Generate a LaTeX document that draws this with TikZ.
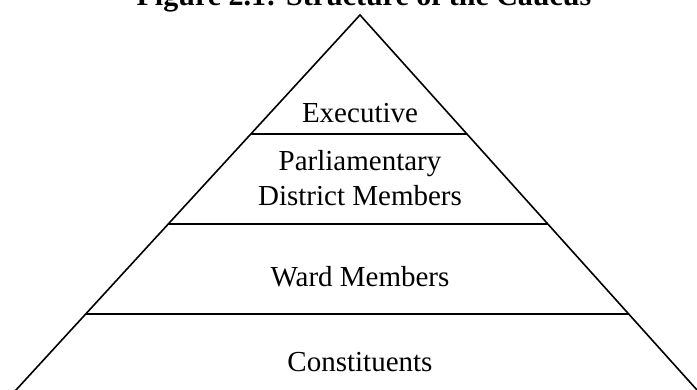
\documentclass[tikz,border=0pt]{standalone}
\usepackage{fontspec}
\setmainfont{Liberation Serif}
\usetikzlibrary{calc}
\begin{document}
\begin{tikzpicture}[x=1pt, y=-1pt, line width=1.6pt,
        tier/.style = {font=\fontsize{29}{35}\selectfont, align=center, anchor=base, inner sep=0pt}]
        \useasboundingbox (0,0) rectangle (697,390);
        \clip (0,0) rectangle (697,390);

        \node[font=\bfseries\fontsize{30}{34}\selectfont, anchor=base, inner sep=0pt] (title) at (364,6) {Figure 2.1: Structure of the Caucus};

        % corners of the pyramid
        \coordinate (apex) at (360,15);
        \coordinate (bl) at ($(apex)!1.05!(16,390)$);
        \coordinate (br) at ($(apex)!1.05!(697,390)$);

        % ends of the dividing lines
        \coordinate (l1) at ($(apex)!0.3173!(16,390)$);
        \coordinate (r1) at ($(apex)!0.3173!(697,390)$);
        \coordinate (l2) at ($(apex)!0.5573!(16,390)$);
        \coordinate (r2) at ($(apex)!0.5573!(697,390)$);
        \coordinate (l3) at ($(apex)!0.7973!(16,390)$);
        \coordinate (r3) at ($(apex)!0.7973!(697,390)$);

        \draw (bl) -- (apex) -- (br);
        \draw (l1) -- (r1);
        \draw (l2) -- (r2);
        \draw (l3) -- (r3);

        \node[tier] (exec) at (360,123) {Executive};
        \node[tier] (district) at (360,206) {Parliamentary\\District Members};
        \node[tier] (ward) at (360,287) {Ward Members};
        \node[tier] (const) at (360,372) {Constituents};

    \end{tikzpicture}
\end{document}
